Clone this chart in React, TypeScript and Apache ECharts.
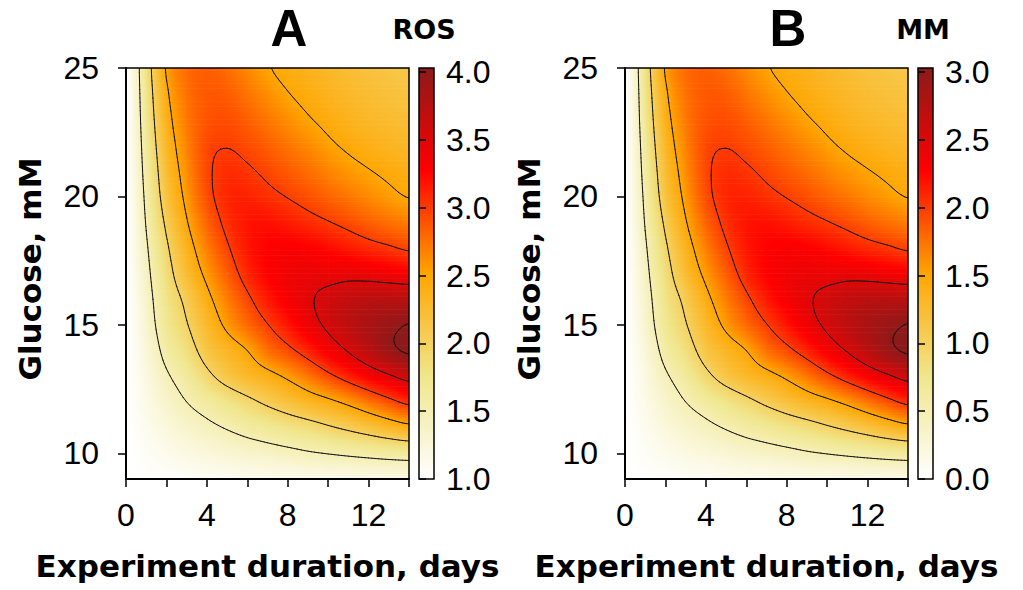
import { useEffect, useRef } from "react";
import * as echarts from "echarts";

// ---------------- data ----------------
const days = [0, 1, 2, 3, 4, 5, 6, 7, 8, 9, 10, 11, 12, 13, 14];
const glucose = [9, 10, 11, 12, 13, 14, 15, 16, 17, 18, 19, 20, 21, 22, 23, 24, 25];

// rows: glucose 9..25, columns: days 0..14
const rosValues = [
  [1.0, 1.02, 1.04, 1.06, 1.08, 1.1, 1.12, 1.13, 1.14, 1.15, 1.16, 1.17, 1.18, 1.19, 1.2],
  [1.0, 1.06, 1.13, 1.19, 1.24, 1.29, 1.34, 1.38, 1.42, 1.47, 1.51, 1.55, 1.59, 1.63, 1.66],
  [1.0, 1.11, 1.23, 1.34, 1.43, 1.52, 1.61, 1.69, 1.78, 1.86, 1.96, 2.06, 2.17, 2.29, 2.4],
  [1.0, 1.16, 1.34, 1.5, 1.64, 1.78, 1.92, 2.06, 2.19, 2.32, 2.43, 2.57, 2.74, 2.91, 3.07],
  [1.0, 1.21, 1.46, 1.66, 1.92, 2.13, 2.28, 2.4, 2.55, 2.73, 2.93, 3.12, 3.3, 3.46, 3.6],
  [1.0, 1.26, 1.6, 1.84, 2.14, 2.33, 2.5, 2.76, 2.93, 3.12, 3.33, 3.52, 3.72, 3.92, 4.04],
  [1.0, 1.32, 1.71, 1.98, 2.29, 2.56, 2.79, 2.99, 3.18, 3.38, 3.55, 3.7, 3.83, 3.93, 4.01],
  [1.0, 1.36, 1.78, 2.08, 2.42, 2.7, 2.95, 3.16, 3.33, 3.46, 3.58, 3.66, 3.71, 3.73, 3.72],
  [1.0, 1.41, 1.86, 2.25, 2.57, 2.85, 3.1, 3.27, 3.36, 3.4, 3.4, 3.42, 3.4, 3.36, 3.33],
  [1.0, 1.46, 1.95, 2.36, 2.7, 2.97, 3.17, 3.27, 3.3, 3.28, 3.23, 3.16, 3.09, 3.03, 2.96],
  [1.0, 1.52, 2.06, 2.48, 2.82, 3.06, 3.18, 3.2, 3.15, 3.08, 3.01, 2.93, 2.84, 2.76, 2.7],
  [1.0, 1.57, 2.17, 2.57, 2.92, 3.1, 3.12, 3.06, 2.99, 2.91, 2.82, 2.73, 2.64, 2.56, 2.49],
  [1.0, 1.62, 2.24, 2.63, 2.95, 3.07, 3.03, 2.95, 2.86, 2.77, 2.67, 2.58, 2.51, 2.45, 2.4],
  [1.0, 1.67, 2.31, 2.68, 2.94, 2.99, 2.93, 2.84, 2.74, 2.64, 2.54, 2.46, 2.4, 2.34, 2.3],
  [1.0, 1.72, 2.38, 2.72, 2.89, 2.92, 2.84, 2.73, 2.62, 2.52, 2.44, 2.36, 2.3, 2.26, 2.23],
  [1.0, 1.76, 2.45, 2.75, 2.87, 2.85, 2.74, 2.62, 2.51, 2.43, 2.36, 2.29, 2.24, 2.2, 2.17],
  [1.0, 1.8, 2.53, 2.78, 2.84, 2.78, 2.65, 2.52, 2.43, 2.37, 2.3, 2.24, 2.19, 2.15, 2.12],
];

const mmValues = [
  [0.0, 0.02, 0.04, 0.06, 0.08, 0.1, 0.12, 0.13, 0.14, 0.15, 0.16, 0.17, 0.18, 0.19, 0.2],
  [0.0, 0.06, 0.13, 0.19, 0.24, 0.29, 0.34, 0.38, 0.42, 0.47, 0.51, 0.55, 0.59, 0.63, 0.66],
  [0.0, 0.11, 0.23, 0.34, 0.43, 0.52, 0.61, 0.69, 0.78, 0.86, 0.96, 1.06, 1.17, 1.29, 1.4],
  [0.0, 0.16, 0.34, 0.5, 0.64, 0.78, 0.92, 1.06, 1.19, 1.32, 1.43, 1.57, 1.74, 1.91, 2.07],
  [0.0, 0.21, 0.46, 0.66, 0.92, 1.13, 1.28, 1.4, 1.55, 1.73, 1.93, 2.12, 2.3, 2.46, 2.6],
  [0.0, 0.26, 0.6, 0.84, 1.14, 1.33, 1.5, 1.76, 1.93, 2.12, 2.33, 2.52, 2.72, 2.92, 3.04],
  [0.0, 0.32, 0.71, 0.98, 1.29, 1.56, 1.79, 1.99, 2.18, 2.38, 2.55, 2.7, 2.83, 2.93, 3.01],
  [0.0, 0.36, 0.78, 1.08, 1.42, 1.7, 1.95, 2.16, 2.33, 2.46, 2.58, 2.66, 2.71, 2.73, 2.72],
  [0.0, 0.41, 0.86, 1.25, 1.57, 1.85, 2.1, 2.27, 2.36, 2.4, 2.4, 2.42, 2.4, 2.36, 2.33],
  [0.0, 0.46, 0.95, 1.36, 1.7, 1.97, 2.17, 2.27, 2.3, 2.28, 2.23, 2.16, 2.09, 2.03, 1.96],
  [0.0, 0.52, 1.06, 1.48, 1.82, 2.06, 2.18, 2.2, 2.15, 2.08, 2.01, 1.93, 1.84, 1.76, 1.7],
  [0.0, 0.57, 1.17, 1.57, 1.92, 2.1, 2.12, 2.06, 1.99, 1.91, 1.82, 1.73, 1.64, 1.56, 1.49],
  [0.0, 0.62, 1.24, 1.63, 1.95, 2.07, 2.03, 1.95, 1.86, 1.77, 1.67, 1.58, 1.51, 1.45, 1.4],
  [0.0, 0.67, 1.31, 1.68, 1.94, 1.99, 1.93, 1.84, 1.74, 1.64, 1.54, 1.46, 1.4, 1.34, 1.3],
  [0.0, 0.72, 1.38, 1.72, 1.89, 1.92, 1.84, 1.73, 1.62, 1.52, 1.44, 1.36, 1.3, 1.26, 1.23],
  [0.0, 0.76, 1.45, 1.75, 1.87, 1.85, 1.74, 1.62, 1.51, 1.43, 1.36, 1.29, 1.24, 1.2, 1.17],
  [0.0, 0.8, 1.53, 1.78, 1.84, 1.78, 1.65, 1.52, 1.43, 1.37, 1.3, 1.24, 1.19, 1.15, 1.12],
];

const rosContourLevels = [1.5, 2.0, 2.5, 3.0, 3.5, 4.0];
const mmContourLevels = [0.5, 1.0, 1.5, 2.0, 2.5, 3.0];
const rosColorTicks = [1.0, 1.5, 2.0, 2.5, 3.0, 3.5, 4.0];
const mmColorTicks = [0.0, 0.5, 1.0, 1.5, 2.0, 2.5, 3.0];
const rosColorRange = [1.0, 4.03];
const mmColorRange = [0.0, 3.03];
const heatColors = ["#FFFFFF", "#F0E68C", "#FFA500", "#FF0000", "#8B1A1A"];

const dayTicks = [0, 2, 4, 6, 8, 10, 12, 14];
const dayLabels = [0, 4, 8, 12];
const glucoseTicks = [10, 15, 20, 25];

const panelTitles = ["A", "B"];
const colorbarTitles = ["ROS", "MM"];
const xAxisTitle = "Experiment duration, days";
const yAxisTitle = "Glucose, mM";

// ---------------- layout ----------------
const PLOT_TOP = 68;
const PLOT_W = 283;
const PLOT_H = 411;
const panelLefts = [126, 625];
const BAR_OFFSET = 293;
const BAR_W = 15;
const NUM_FONT = "'Liberation Sans', Arial, sans-serif";
const BOLD_FONT = "'DejaVu Sans', 'Liberation Sans', sans-serif";

// ---------------- helpers ----------------
function hexToRgb(h: string) {
  return [parseInt(h.slice(1, 3), 16), parseInt(h.slice(3, 5), 16), parseInt(h.slice(5, 7), 16)];
}
const rampRgb = heatColors.map(hexToRgb);

function colorAt(v: number, range: number[]) {
  const n = rampRgb.length;
  let t = (v - range[0]) / (range[1] - range[0]);
  t = Math.max(0, Math.min(1, t));
  const p = t * (n - 1);
  const k = Math.min(n - 2, Math.floor(p));
  const f = p - k;
  const a = rampRgb[k];
  const b = rampRgb[k + 1];
  const c = [0, 1, 2].map((i) => Math.round(a[i] + (b[i] - a[i]) * f));
  return `rgb(${c[0]},${c[1]},${c[2]})`;
}

// smooth (Catmull-Rom) surface through the grid values, used only for shading/contours
function makeSampler(values: number[][]) {
  const nx = days.length;
  const ny = glucose.length;
  const at = (i: number, j: number) =>
    values[Math.max(0, Math.min(ny - 1, j))][Math.max(0, Math.min(nx - 1, i))];
  const cr = (p0: number, p1: number, p2: number, p3: number, t: number) =>
    0.5 * (2 * p1 + (-p0 + p2) * t + (2 * p0 - 5 * p1 + 4 * p2 - p3) * t * t + (-p0 + 3 * p1 - 3 * p2 + p3) * t * t * t);
  return (i: number, j: number, s: number, t: number) => {
    const r = [-1, 0, 1, 2].map((dj) => cr(at(i - 1, j + dj), at(i, j + dj), at(i + 1, j + dj), at(i + 2, j + dj), s));
    return cr(r[0], r[1], r[2], r[3], t);
  };
}

function buildCells(values: number[][]) {
  const cells: number[][] = [];
  for (let j = 0; j < glucose.length - 1; j++) {
    for (let i = 0; i < days.length - 1; i++) {
      cells.push([days[i], glucose[j], days[i + 1], glucose[j + 1], i, j, values[j][i]]);
    }
  }
  return cells;
}

const STRIPS = 10;
const XSAMPLES = 6;
function fillRenderer(values: number[][], range: number[]) {
  const sample = makeSampler(values);
  return (_params: any, api: any) => {
    const x0 = api.value(0), y0 = api.value(1), x1 = api.value(2), y1 = api.value(3);
    const i = api.value(4), j = api.value(5);
    const pA = api.coord([x0, y0]);
    const pB = api.coord([x1, y1]);
    const left = pA[0], right = pB[0], bottom = pA[1], top = pB[1];
    const children: any[] = [];
    for (let k = 0; k < STRIPS; k++) {
      const t = (k + 0.5) / STRIPS;
      const stops: any[] = [];
      for (let q = 0; q < XSAMPLES; q++) {
        const s = q / (XSAMPLES - 1);
        stops.push({ offset: s, color: colorAt(sample(i, j, s, t), range) });
      }
      const yb = bottom + ((top - bottom) * k) / STRIPS;
      const yt = bottom + ((top - bottom) * (k + 1)) / STRIPS;
      children.push({
        type: "rect",
        silent: true,
        shape: { x: left, y: yt - 0.3, width: right - left + 0.7, height: yb - yt + 0.6 },
        style: { fill: new echarts.graphic.LinearGradient(0, 0, 1, 0, stops) },
      });
    }
    return { type: "group", children };
  };
}

const SUB = 6;
function contourRenderer(values: number[][], levels: number[]) {
  const sample = makeSampler(values);
  return (_params: any, api: any) => {
    const x0 = api.value(0), y0 = api.value(1), x1 = api.value(2), y1 = api.value(3);
    const i = api.value(4), j = api.value(5);
    const pA = api.coord([x0, y0]);
    const pB = api.coord([x1, y1]);
    const left = pA[0], right = pB[0], bottom = pA[1], top = pB[1];
    const g: number[][] = [];
    let lo = Infinity, hi = -Infinity;
    for (let a = 0; a <= SUB; a++) {
      g.push([]);
      for (let b = 0; b <= SUB; b++) {
        const v = sample(i, j, a / SUB, b / SUB);
        g[a].push(v);
        lo = Math.min(lo, v);
        hi = Math.max(hi, v);
      }
    }
    const px = (s: number) => left + (right - left) * s;
    const py = (t: number) => bottom + (top - bottom) * t;
    const children: any[] = [];
    const seg = (p: number[], q: number[]) => {
      children.push({
        type: "line",
        silent: true,
        shape: { x1: px(p[0]), y1: py(p[1]), x2: px(q[0]), y2: py(q[1]) },
        style: { stroke: "#151515", lineWidth: 1, lineCap: "round" },
      });
    };
    levels.forEach((L) => {
      if (L < lo || L > hi) return;
      for (let a = 0; a < SUB; a++) {
        for (let b = 0; b < SUB; b++) {
          const s0 = a / SUB, s1 = (a + 1) / SUB, t0 = b / SUB, t1 = (b + 1) / SUB;
          const c00 = g[a][b], c10 = g[a + 1][b], c01 = g[a][b + 1], c11 = g[a + 1][b + 1];
          const u00 = c00 >= L, u10 = c10 >= L, u01 = c01 >= L, u11 = c11 >= L;
          const e: (number[] | null)[] = [null, null, null, null];
          if (u00 !== u10) e[0] = [s0 + ((L - c00) / (c10 - c00)) * (s1 - s0), t0];
          if (u10 !== u11) e[1] = [s1, t0 + ((L - c10) / (c11 - c10)) * (t1 - t0)];
          if (u01 !== u11) e[2] = [s0 + ((L - c01) / (c11 - c01)) * (s1 - s0), t1];
          if (u00 !== u01) e[3] = [s0, t0 + ((L - c00) / (c01 - c00)) * (t1 - t0)];
          const pts = e.filter((p) => p) as number[][];
          if (pts.length === 2) {
            seg(pts[0], pts[1]);
          } else if (pts.length === 4) {
            const center = (c00 + c10 + c01 + c11) / 4 >= L;
            if (center === u00) {
              seg(e[0]!, e[1]!);
              seg(e[2]!, e[3]!);
            } else {
              seg(e[0]!, e[3]!);
              seg(e[1]!, e[2]!);
            }
          }
        }
      }
    });
    return { type: "group", children };
  };
}

function barRenderer(_params: any, api: any) {
  const pA = api.coord([api.value(0), api.value(1)]);
  const pB = api.coord([api.value(2), api.value(3)]);
  const n = heatColors.length;
  const stops = heatColors
    .map((c, i) => ({ offset: 1 - i / (n - 1), color: c }))
    .sort((a, b) => a.offset - b.offset);
  return {
    type: "rect",
    silent: true,
    shape: { x: pA[0], y: pB[1], width: pB[0] - pA[0], height: pA[1] - pB[1] },
    style: { fill: new echarts.graphic.LinearGradient(0, 0, 0, 1, stops) },
  };
}

function buildOption() {
  const panels = [
    { values: rosValues, levels: rosContourLevels, ticks: rosColorTicks, range: rosColorRange },
    { values: mmValues, levels: mmContourLevels, ticks: mmColorTicks, range: mmColorRange },
  ];
  const grid: any[] = [];
  const xAxis: any[] = [];
  const yAxis: any[] = [];
  const series: any[] = [];
  const graphic: any[] = [];
  const dims = ["x0", "y0", "x1", "y1", "i", "j", "v"];

  panels.forEach((p, k) => {
    const left = panelLefts[k];
    const plotIdx = grid.length;
    grid.push({
      left, top: PLOT_TOP, width: PLOT_W, height: PLOT_H,
      show: true, borderColor: "#000", borderWidth: 1.5, backgroundColor: "transparent",
      z: 5, outerBoundsMode: "none", containLabel: false,
    });
    const barIdx = grid.length;
    grid.push({
      left: left + BAR_OFFSET, top: PLOT_TOP, width: BAR_W, height: PLOT_H,
      show: true, borderColor: "#000", borderWidth: 1.5, backgroundColor: "transparent",
      z: 5, outerBoundsMode: "none", containLabel: false,
    });

    xAxis.push({
      gridIndex: plotIdx, type: "value", min: 0, max: 14, interval: 2, z: 6,
      axisLine: { show: true, onZero: false, lineStyle: { color: "#000", width: 2 } },
      axisTick: { show: true, customValues: dayTicks, length: 8, lineStyle: { color: "#000", width: 1.5 } },
      axisLabel: {
        show: true, customValues: dayLabels, margin: 20, fontSize: 32, color: "#000", fontFamily: NUM_FONT,
        formatter: (v: number) => (dayLabels.indexOf(v) >= 0 ? String(v) : ""),
      },
      splitLine: { show: false },
    });
    xAxis.push({ gridIndex: barIdx, type: "value", min: 0, max: 1, show: false, splitLine: { show: false } });

    yAxis.push({
      gridIndex: plotIdx, type: "value", min: 9, max: 25, z: 6,
      axisLine: { show: true, onZero: false, lineStyle: { color: "#000", width: 2 } },
      axisTick: { show: true, customValues: glucoseTicks, length: 8, lineStyle: { color: "#000", width: 1.5 } },
      axisLabel: { show: true, customValues: glucoseTicks, margin: 27, fontSize: 32, color: "#000", fontFamily: NUM_FONT },
      splitLine: { show: false },
    });
    yAxis.push({
      gridIndex: barIdx, type: "value", position: "right", min: p.range[0], max: p.range[1], z: 6,
      axisLine: { show: false },
      axisTick: { show: true, customValues: p.ticks, length: 7, lineStyle: { color: "#000", width: 1.5 } },
      axisLabel: {
        show: true, customValues: p.ticks, margin: 12, fontSize: 32, color: "#000", fontFamily: NUM_FONT,
        formatter: (v: number) => v.toFixed(1),
      },
      splitLine: { show: false },
    });

    const cells = buildCells(p.values);
    series.push({
      type: "custom", xAxisIndex: plotIdx, yAxisIndex: plotIdx, dimensions: dims,
      encode: { x: [0, 2], y: [1, 3] }, data: cells, renderItem: fillRenderer(p.values, p.range),
      clip: true, silent: true, z: 1,
    });
    series.push({
      type: "custom", xAxisIndex: plotIdx, yAxisIndex: plotIdx, dimensions: dims,
      encode: { x: [0, 2], y: [1, 3] }, data: cells, renderItem: contourRenderer(p.values, p.levels),
      clip: true, silent: true, z: 3,
    });
    series.push({
      type: "custom", xAxisIndex: barIdx, yAxisIndex: barIdx,
      dimensions: ["x0", "y0", "x1", "y1"], encode: { x: [0, 2], y: [1, 3] },
      data: [[0, p.range[0], 1, p.range[1]]], renderItem: barRenderer,
      clip: true, silent: true, z: 1,
    });

    graphic.push({
      type: "text", x: left + 163, y: 28.5,
      style: { text: panelTitles[k], fontSize: 51, fontWeight: "bold", fontFamily: NUM_FONT, fill: "#000", align: "center", verticalAlign: "middle" },
    });
    graphic.push({
      type: "text", x: left + BAR_OFFSET + 5, y: 29.5,
      style: { text: colorbarTitles[k], fontSize: 27, fontWeight: "bold", fontFamily: BOLD_FONT, fill: "#000", align: "center", verticalAlign: "middle" },
    });
    graphic.push({
      type: "text", x: left + PLOT_W / 2, y: 566,
      style: { text: xAxisTitle, fontSize: 31, fontWeight: "bold", fontFamily: BOLD_FONT, fill: "#000", align: "center", verticalAlign: "middle" },
    });
    graphic.push({
      type: "text", x: left - 96, y: 269, rotation: Math.PI / 2,
      style: { text: yAxisTitle, fontSize: 31, fontWeight: "bold", fontFamily: BOLD_FONT, fill: "#000", align: "center", verticalAlign: "middle" },
    });
  });

  return {
    animation: false,
    backgroundColor: "#ffffff",
    grid,
    xAxis,
    yAxis,
    series,
    graphic,
  };
}

export default function App() {
  const ref = useRef<HTMLDivElement>(null);
  useEffect(() => {
    if (!ref.current) return;
    const chart = echarts.init(ref.current, null, { renderer: "svg" });
    chart.setOption(buildOption() as any);
    return () => {
      chart.dispose();
    };
  }, []);
  return (
    <div
      ref={ref}
      style={{ position: "absolute", left: 0, top: 0, width: 1023, height: 590, background: "#fff" }}
    />
  );
}
